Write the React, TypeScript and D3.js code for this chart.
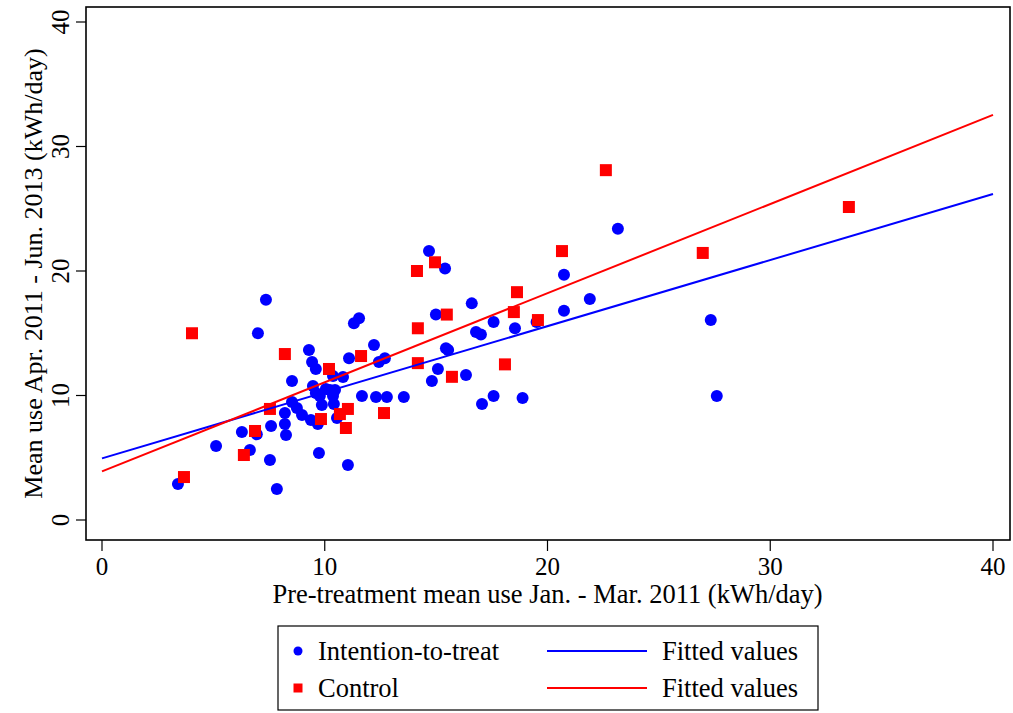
import React, { useRef, useEffect } from 'react';
import * as d3 from 'd3';

// Intention-to-treat group: pre-treatment use (x) vs mean use (y), kWh/day
const ittX = [3.41, 5.12, 6.28, 6.64, 6.95, 7.0, 7.36, 7.54, 7.59, 7.85, 8.21, 8.21, 8.26, 8.53, 8.53, 8.75, 8.98, 9.29, 9.38, 9.43, 9.47, 9.6, 9.6, 9.69, 9.74, 9.78, 9.87, 10.05, 10.23, 10.37, 10.37, 10.41, 10.46, 10.55, 10.82, 11.04, 11.09, 11.31, 11.54, 11.67, 12.21, 12.30, 12.43, 12.70, 12.79, 13.55, 14.68, 14.81, 14.99, 15.08, 15.4, 15.44, 15.54, 16.34, 16.6, 16.79, 17.01, 17.06, 17.58, 17.58, 18.54, 18.88, 19.51, 20.74, 20.74, 21.9, 23.16, 27.33, 27.6];
const ittY = [2.89, 5.94, 7.07, 5.62, 6.88, 15.0, 17.7, 4.82, 7.55, 2.49, 8.59, 7.71, 6.83, 11.16, 9.48, 9.0, 8.43, 13.65, 8.03, 12.69, 10.76, 10.2, 12.13, 7.71, 5.38, 9.96, 9.24, 10.52, 10.44, 11.57, 9.96, 9.32, 10.44, 8.19, 11.49, 4.42, 13.0, 15.8, 16.2, 9.96, 14.06, 9.88, 12.69, 13.0, 9.88, 9.88, 21.6, 11.16, 16.5, 12.13, 20.2, 13.8, 13.65, 11.65, 17.4, 15.1, 14.9, 9.32, 9.96, 15.9, 15.4, 9.8, 15.9, 19.7, 16.8, 17.75, 23.4, 16.06, 9.96];

// Control group
const ctlX = [3.68, 4.04, 6.37, 6.87, 7.54, 8.21, 9.83, 10.19, 10.68, 10.95, 11.04, 11.63, 12.66, 14.14, 14.18, 14.18, 14.95, 15.48, 15.71, 18.09, 18.49, 18.63, 19.57, 20.65, 22.62, 26.97, 33.53];
const ctlY = [3.45, 15.0, 5.22, 7.15, 8.92, 13.33, 8.11, 12.13, 8.51, 7.39, 8.92, 13.17, 8.59, 20.0, 15.4, 12.6, 20.7, 16.5, 11.5, 12.5, 16.7, 18.3, 16.06, 21.6, 28.1, 21.45, 25.14];

// fitted lines [intercept, slope]
const ittFit = [4.95, 0.531];
const ctlFit = [3.9, 0.716];

const ticks = [0, 10, 20, 30, 40];

const BLUE = '#0000ff';
const RED = '#ff0000';
const FONT = '"Liberation Serif", "Times New Roman", serif';

export default function App() {
  const svgRef = useRef<SVGSVGElement>(null);

  useEffect(() => {
    if (!svgRef.current) return;
    const svg = d3.select(svgRef.current);
    svg.selectAll('*').remove();

    const W = 1013, H = 713;
    const frame = { left: 86, right: 1010, top: 7, bottom: 540 };

    const x = d3.scaleLinear().domain([0, 40]).range([102, 993]);
    const y = d3.scaleLinear().domain([0, 40]).range([520, 22]);

    svg.attr('width', W).attr('height', H);
    svg.append('rect').attr('width', W).attr('height', H).attr('fill', '#fff');

    // plot frame
    svg.append('rect')
      .attr('x', frame.left).attr('y', frame.top)
      .attr('width', frame.right - frame.left).attr('height', frame.bottom - frame.top)
      .attr('fill', 'none').attr('stroke', '#000').attr('stroke-width', 1.6);

    // y axis
    const yAxis = svg.append('g');
    ticks.forEach(t => {
      yAxis.append('line')
        .attr('x1', frame.left - 10).attr('x2', frame.left)
        .attr('y1', y(t)).attr('y2', y(t))
        .attr('stroke', '#000').attr('stroke-width', 1.2);
      yAxis.append('text')
        .attr('transform', `translate(${frame.left - 17},${y(t)}) rotate(-90)`)
        .attr('text-anchor', 'middle')
        .attr('font-family', FONT).attr('font-size', 25)
        .text(t);
    });
    svg.append('text')
      .attr('transform', `translate(42,${(frame.top + frame.bottom) / 2}) rotate(-90)`)
      .attr('text-anchor', 'middle')
      .attr('font-family', FONT).attr('font-size', 26)
      .text('Mean use Apr. 2011 - Jun. 2013 (kWh/day)');

    // x axis
    const xAxis = svg.append('g');
    ticks.forEach(t => {
      xAxis.append('line')
        .attr('x1', x(t)).attr('x2', x(t))
        .attr('y1', frame.bottom).attr('y2', frame.bottom + 11)
        .attr('stroke', '#000').attr('stroke-width', 1.2);
      xAxis.append('text')
        .attr('x', x(t)).attr('y', frame.bottom + 35)
        .attr('text-anchor', 'middle')
        .attr('font-family', FONT).attr('font-size', 25)
        .text(t);
    });
    svg.append('text')
      .attr('x', x(20)).attr('y', 603)
      .attr('text-anchor', 'middle')
      .attr('font-family', FONT).attr('font-size', 26.5)
      .text('Pre-treatment mean use Jan. - Mar. 2011 (kWh/day)');

    // points
    svg.append('g').selectAll('circle')
      .data(d3.range(ittX.length))
      .join('circle')
      .attr('cx', i => x(ittX[i]))
      .attr('cy', i => y(ittY[i]))
      .attr('r', 6)
      .attr('fill', BLUE);

    svg.append('g').selectAll('rect')
      .data(d3.range(ctlX.length))
      .join('rect')
      .attr('x', i => x(ctlX[i]) - 6)
      .attr('y', i => y(ctlY[i]) - 6)
      .attr('width', 12).attr('height', 12)
      .attr('fill', RED);

    // fitted lines
    const line = d3.line<number>().x(d => x(d[0])).y(d => y(d[1]));
    const fitPts = (f: number[]) => [0, 40].map(v => [v, f[0] + f[1] * v]);
    svg.append('path').attr('d', line(fitPts(ittFit) as any))
      .attr('fill', 'none').attr('stroke', BLUE).attr('stroke-width', 2);
    svg.append('path').attr('d', line(fitPts(ctlFit) as any))
      .attr('fill', 'none').attr('stroke', RED).attr('stroke-width', 2);

    // legend
    const lg = svg.append('g');
    lg.append('rect')
      .attr('x', 278).attr('y', 626).attr('width', 540).attr('height', 84)
      .attr('fill', '#fff').attr('stroke', '#000').attr('stroke-width', 1.2);
    const rows = [
      { label: 'Intention-to-treat', color: BLUE, shape: 'circle', cy: 651 },
      { label: 'Control', color: RED, shape: 'square', cy: 688 },
    ];
    rows.forEach(r => {
      if (r.shape === 'circle') {
        lg.append('circle').attr('cx', 298).attr('cy', r.cy).attr('r', 4.5).attr('fill', r.color);
      } else {
        lg.append('rect').attr('x', 293.5).attr('y', r.cy - 4.5).attr('width', 9).attr('height', 9).attr('fill', r.color);
      }
      lg.append('text').attr('x', 318).attr('y', r.cy + 9)
        .attr('font-family', FONT).attr('font-size', 26.5).text(r.label);
      lg.append('line').attr('x1', 547).attr('x2', 647).attr('y1', r.cy).attr('y2', r.cy)
        .attr('stroke', r.color).attr('stroke-width', 2);
      lg.append('text').attr('x', 662).attr('y', r.cy + 9)
        .attr('font-family', FONT).attr('font-size', 26.5).text('Fitted values');
    });
  }, []);

  return (
    <svg ref={svgRef} style={{ position: 'absolute', left: 0, top: 0, display: 'block' }} />
  );
}
